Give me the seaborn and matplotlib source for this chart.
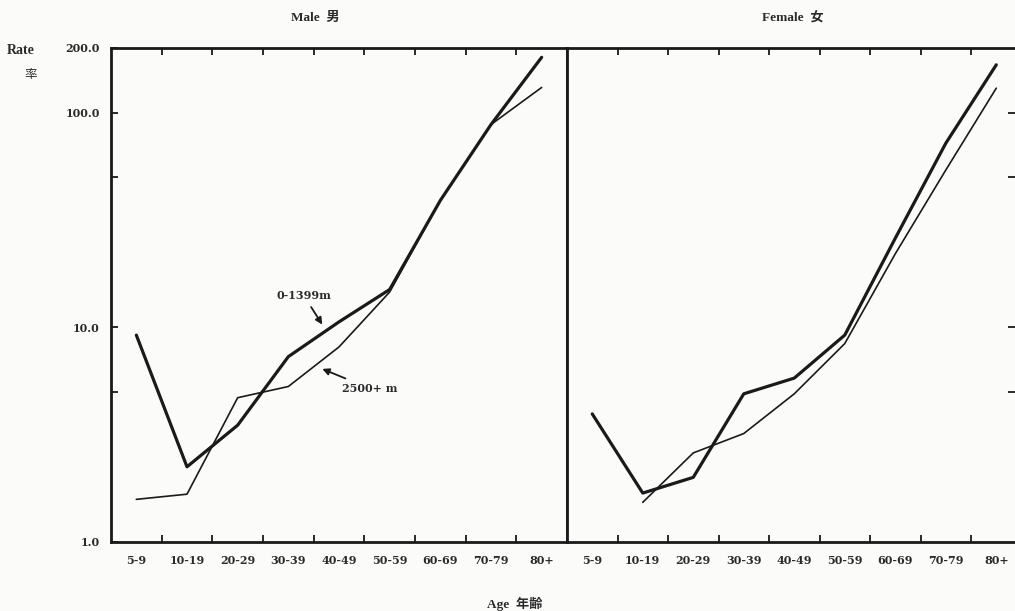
import numpy as np
import pandas as pd
import matplotlib
matplotlib.use("Agg")
import matplotlib.pyplot as plt
import seaborn as sns

# Age groups and mortality rates by altitude band (log scale)
ages = ["5-9", "10-19", "20-29", "30-39", "40-49", "50-59", "60-69", "70-79", "80+"]
male_low = [9.2, 2.24, 3.5, 7.3, 10.6, 15.0, 39.0, 88.0, 181.0]
male_high = [1.58, 1.67, 4.7, 5.3, 8.1, 14.6, 39.0, 88.0, 131.0]
female_low = [3.95, 1.69, 2.0, 4.9, 5.8, 9.2, 26.0, 72.0, 167.0]
female_high = [np.nan, 1.53, 2.6, 3.2, 4.9, 8.4, 22.0, 54.0, 130.0]

y_ticks_major = [1.0, 10.0, 100.0, 200.0]
y_ticks_minor = [5.0, 50.0]

sns.set_style("white")
plt.rcParams["font.family"] = ["DejaVu Serif", "Noto Sans CJK JP", "DejaVu Sans"]

INK = "#1a1a1a"
TXT = "#2a2a2a"
BG = "#fbfbfa"
TITLE_FONT = ["Liberation Serif", "Noto Sans CJK JP", "DejaVu Sans"]

fig = plt.figure(figsize=(10.15, 6.11), dpi=100, facecolor=BG)
W, H = 1015, 611


def fx(px):
    return px / W


def fy(py):
    return 1 - py / H


# the female panel runs slightly past the right edge of the page
ax_m = fig.add_axes([fx(111), fy(542), fx(567 - 111), fy(48) - fy(542)])
ax_f = fig.add_axes([fx(567), fy(542), fx(1018 - 567), fy(48) - fy(542)])

x = np.arange(len(ages))
panels = [(ax_m, male_low, male_high, (-0.5, 8.5)),
          (ax_f, female_low, female_high, (-0.5, 8.43))]

for ax, low, high, xl in panels:
    ax.set_facecolor(BG)
    df = pd.DataFrame({"x": x, "low": low, "high": high})
    sns.lineplot(data=df, x="x", y="high", ax=ax, color=INK, lw=1.2,
                 estimator=None, sort=False)
    sns.lineplot(data=df, x="x", y="low", ax=ax, color=INK, lw=2.3,
                 estimator=None, sort=False)
    ax.set_yscale("log")
    ax.set_ylim(1.0, 200.0)
    ax.set_xlim(*xl)
    ax.set_xlabel("")
    ax.set_ylabel("")
    for s in ax.spines.values():
        s.set_visible(True)
        s.set_color(INK)
        s.set_linewidth(2.0)
    # category boundaries carry the ticks, labels sit between them
    ax.set_xticks(np.arange(0.5, len(ages) - 1, 1.0))
    ax.set_xticklabels([])
    ax.set_xticks(x, minor=True)
    ax.set_xticklabels(ages, minor=True, fontsize=8, fontweight="bold",
                       color=TXT)
    ax.tick_params(axis="x", which="major", direction="in", length=5,
                   width=1.3, color=INK, top=True, bottom=True)
    ax.tick_params(axis="x", which="minor", length=0, pad=9)
    ax.yaxis.set_minor_locator(matplotlib.ticker.NullLocator())

# Male panel: labelled y axis on the left
ax_m.set_yticks(y_ticks_major + y_ticks_minor)
ax_m.set_yticklabels([f"{v:.1f}" for v in y_ticks_major] + ["", ""],
                     fontsize=8, fontweight="bold", color=TXT)
ax_m.tick_params(axis="y", direction="in", length=5, width=1.3, color=INK,
                 left=True, right=False, pad=8)

# Female panel: unlabelled ticks on the right edge
ax_f.set_yticks(y_ticks_major[1:3] + y_ticks_minor)
ax_f.set_yticklabels([])
ax_f.tick_params(axis="y", direction="in", length=7, width=1.3, color=INK,
                 left=False, right=True)

# Series labels with arrows
arrow = dict(arrowstyle="-|>", color=INK, lw=1.3, mutation_scale=10,
             shrinkA=2, shrinkB=0)
ax_m.annotate("0-1399m", xy=(3.67, 10.3), xytext=(3.31, 14.0),
              ha="center", va="center", fontsize=8, fontweight="bold",
              color=TXT, arrowprops=arrow)
ax_m.annotate("2500+ m", xy=(3.67, 6.4), xytext=(4.05, 5.2),
              ha="left", va="center", fontsize=8, fontweight="bold",
              color=TXT, arrowprops=arrow)

fig.text(fx(315), fy(18), "Male  男", ha="center", va="center",
         fontsize=9.5, fontweight="bold", color=TXT, family=TITLE_FONT)
fig.text(fx(793), fy(18), "Female  女", ha="center", va="center",
         fontsize=9.5, fontweight="bold", color=TXT, family=TITLE_FONT)
fig.text(fx(21), fy(50), "Rate", ha="center", va="center",
         fontsize=10, fontweight="bold", color=TXT, family=TITLE_FONT)
fig.text(fx(31), fy(75), "率", ha="center", va="center",
         fontsize=9, color=TXT, family=TITLE_FONT)
fig.text(fx(515), fy(604), "Age  年齢", ha="center", va="center",
         fontsize=9.5, fontweight="bold", color=TXT, family=TITLE_FONT)

fig.savefig("out.png", dpi=100, facecolor=BG)
